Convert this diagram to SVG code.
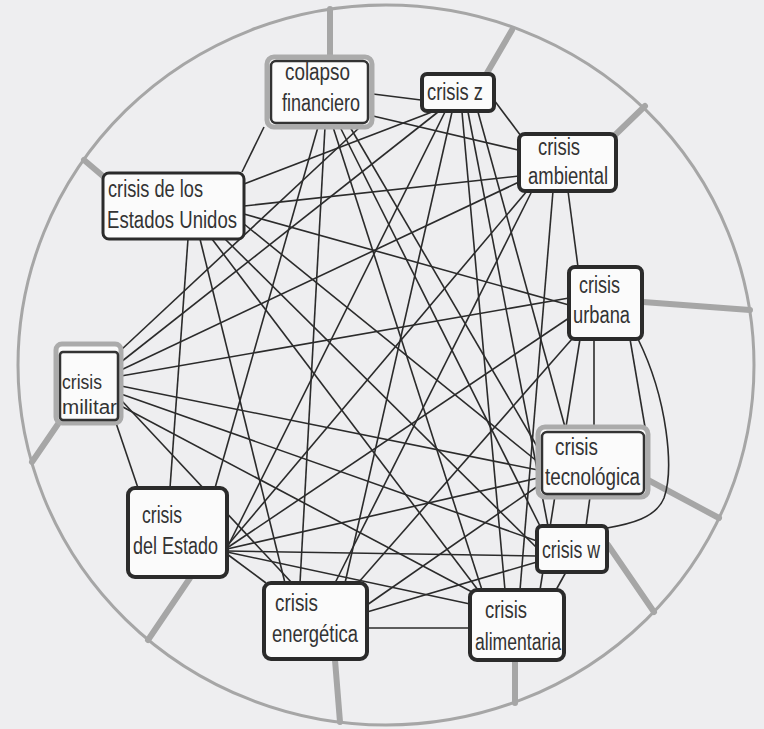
<svg xmlns="http://www.w3.org/2000/svg" width="764" height="729" viewBox="0 0 764 729">
<style>
.e{stroke:#2b2b2b;stroke-width:1.6;fill:none}
.sp{stroke:#a6a6a6;stroke-width:6;stroke-linecap:round}
.ring{fill:none;stroke:#a6a6a6;stroke-width:3}
.box{fill:#fbfbfb;stroke:#2b2b2b;stroke-width:4}
.thin{fill:#fbfbfb;stroke:#2b2b2b;stroke-width:3}
.gbox{fill:#fbfbfb;stroke:#ababab;stroke-width:5}
.inner{fill:none;stroke:#333;stroke-width:2.5}
text{font-family:"Liberation Sans",Arial,sans-serif;font-size:23px;fill:#333}
.sm{font-size:20px}
</style>
<rect width="764" height="729" fill="#eeeef0"/>
<ellipse class="ring" cx="386" cy="365" rx="368" ry="360"/>
<g id="spokes">
<line class="sp" x1="330" y1="57" x2="330" y2="9"/>
<line class="sp" x1="487" y1="73" x2="512" y2="30"/>
<line class="sp" x1="614" y1="136" x2="645" y2="106"/>
<line class="sp" x1="104" y1="177" x2="84" y2="160"/>
<line class="sp" x1="58" y1="424" x2="32" y2="462"/>
<line class="sp" x1="643" y1="302" x2="750" y2="310"/>
<line class="sp" x1="648" y1="480" x2="719" y2="518"/>
<line class="sp" x1="608" y1="545" x2="654" y2="612"/>
<line class="sp" x1="190" y1="578" x2="148" y2="640"/>
<line class="sp" x1="335" y1="660" x2="340" y2="722"/>
<line class="sp" x1="515" y1="661" x2="515" y2="703"/>
</g>
<g id="connectors">
<path class="e" d="M373,94 L421,100"/>
<path class="e" d="M373,116 L518,150"/>
<path class="e" d="M264,127 L242,172"/>
<path class="e" d="M494,100 L521,136"/>
<path class="e" d="M360,127 L121,350"/>
<path class="e" d="M318,127 L215,488"/>
<path class="e" d="M325,127 L300,583"/>
<path class="e" d="M333,127 L482,590"/>
<path class="e" d="M340,127 L540,526"/>
<path class="e" d="M350,127 L538,448"/>
<path class="e" d="M432,112 L244,184"/>
<path class="e" d="M438,112 L121,362"/>
<path class="e" d="M445,112 L228,546"/>
<path class="e" d="M452,112 L345,583"/>
<path class="e" d="M462,112 L505,590"/>
<path class="e" d="M468,112 L548,526"/>
<path class="e" d="M478,112 L565,427"/>
<path class="e" d="M244,206 L519,176"/>
<path class="e" d="M244,214 L569,305"/>
<path class="e" d="M244,224 L538,462"/>
<path class="e" d="M188,239 L170,488"/>
<path class="e" d="M200,239 L285,583"/>
<path class="e" d="M212,239 L478,590"/>
<path class="e" d="M225,239 L537,548"/>
<path class="e" d="M121,370 L519,182"/>
<path class="e" d="M121,376 L569,298"/>
<path class="e" d="M121,386 L538,470"/>
<path class="e" d="M121,394 L537,541"/>
<path class="e" d="M121,400 L292,583"/>
<path class="e" d="M121,406 L472,592"/>
<path class="e" d="M116,423 L138,488"/>
<path class="e" d="M227,546 L527,191"/>
<path class="e" d="M227,548 L569,318"/>
<path class="e" d="M227,549 L538,478"/>
<path class="e" d="M227,551 L537,556"/>
<path class="e" d="M227,552 L470,604"/>
<path class="e" d="M227,554 L266,583"/>
<path class="e" d="M367,628 L470,628"/>
<path class="e" d="M367,605 L538,486"/>
<path class="e" d="M367,612 L537,562"/>
<path class="e" d="M358,583 L572,339"/>
<path class="e" d="M335,583 L532,191"/>
<path class="e" d="M520,590 L553,191"/>
<path class="e" d="M540,590 L580,339"/>
<path class="e" d="M566,572 L556,590"/>
<path class="e" d="M590,497 L586,526"/>
<path class="e" d="M594,339 L594,427"/>
<path class="e" d="M630,339 L645,427"/>
<path class="e" d="M568,191 L578,267"/>
<path class="e" d="M638,339 C668,400 674,470 664,498 C656,518 630,524 607,528"/>
</g>
<g id="colapso-financiero">
<rect class="gbox" x="267" y="57" width="105" height="70" rx="7"/>
<rect class="inner" x="271" y="61" width="97" height="62" rx="5"/>
<text x="285" y="80" textLength="65" lengthAdjust="spacingAndGlyphs">colapso</text>
<text x="282" y="111" textLength="78" lengthAdjust="spacingAndGlyphs">financiero</text>
</g>
<g id="crisis-z">
<rect class="box" x="422" y="74" width="72" height="37" rx="5"/>
<text x="427" y="100" textLength="56" lengthAdjust="spacingAndGlyphs">crisis z</text>
</g>
<g id="crisis-ambiental">
<rect class="box" x="519" y="134" width="97" height="57" rx="6"/>
<text x="538" y="155" textLength="42" lengthAdjust="spacingAndGlyphs">crisis</text>
<text x="528" y="184" textLength="80" lengthAdjust="spacingAndGlyphs">ambiental</text>
</g>
<g id="crisis-estados-unidos">
<rect class="thin" x="103" y="173" width="141" height="66" rx="6"/>
<text x="108" y="197" textLength="95" lengthAdjust="spacingAndGlyphs">crisis de los</text>
<text x="107" y="228" textLength="130" lengthAdjust="spacingAndGlyphs">Estados Unidos</text>
</g>
<g id="crisis-urbana">
<rect class="box" x="569" y="267" width="73" height="72" rx="6"/>
<text x="579" y="293" textLength="41" lengthAdjust="spacingAndGlyphs">crisis</text>
<text x="573" y="323" textLength="57" lengthAdjust="spacingAndGlyphs">urbana</text>
</g>
<g id="crisis-militar">
<rect class="gbox" x="56" y="344" width="65" height="79" rx="6"/>
<rect class="inner" x="60" y="352" width="58" height="68" rx="3"/>
<text class="sm" x="62" y="389" textLength="40" lengthAdjust="spacingAndGlyphs">crisis</text>
<text class="sm" x="62" y="414" textLength="55" lengthAdjust="spacingAndGlyphs">militar</text>
</g>
<g id="crisis-tecnologica">
<rect class="gbox" x="538" y="427" width="110" height="70" rx="7"/>
<rect class="inner" x="542" y="432" width="102" height="62" rx="5"/>
<text x="555" y="455" textLength="43" lengthAdjust="spacingAndGlyphs">crisis</text>
<text x="545" y="485" textLength="95" lengthAdjust="spacingAndGlyphs">tecnológica</text>
</g>
<g id="crisis-del-estado">
<rect class="box" x="128" y="488" width="99" height="89" rx="7"/>
<text x="142" y="523" textLength="40" lengthAdjust="spacingAndGlyphs">crisis</text>
<text x="133" y="554" textLength="85" lengthAdjust="spacingAndGlyphs">del Estado</text>
</g>
<g id="crisis-w">
<rect class="box" x="537" y="526" width="70" height="46" rx="5"/>
<text x="542" y="558" textLength="58" lengthAdjust="spacingAndGlyphs">crisis w</text>
</g>
<g id="crisis-energetica">
<rect class="box" x="264" y="583" width="103" height="76" rx="7"/>
<text x="275" y="611" textLength="43" lengthAdjust="spacingAndGlyphs">crisis</text>
<text x="272" y="642" textLength="86" lengthAdjust="spacingAndGlyphs">energética</text>
</g>
<g id="crisis-alimentaria">
<rect class="box" x="470" y="590" width="94" height="70" rx="7"/>
<text x="485" y="618" textLength="42" lengthAdjust="spacingAndGlyphs">crisis</text>
<text x="475" y="650" textLength="86" lengthAdjust="spacingAndGlyphs">alimentaria</text>
</g>
</svg>
